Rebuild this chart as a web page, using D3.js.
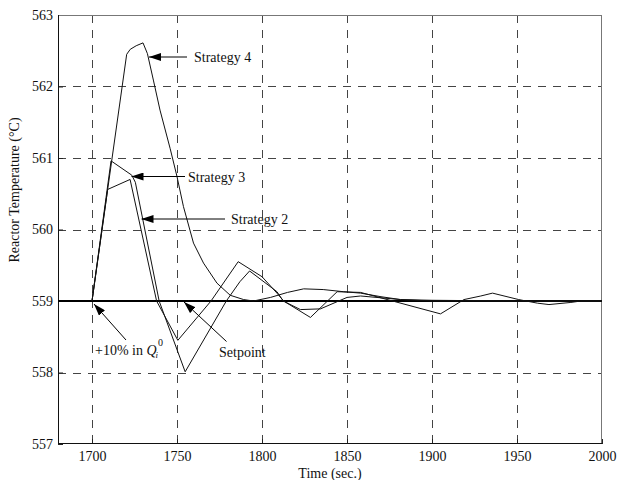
<!DOCTYPE html>
<html>
<head>
<meta charset="utf-8">
<script src="https://cdn.jsdelivr.net/npm/d3@7/dist/d3.min.js"></script>
<style>
  html, body { margin: 0; padding: 0; background: #fff; }
  svg { display: block; }
  text { font-family: "Liberation Serif", "Times New Roman", serif; fill: #111; }
</style>
</head>
<body>
<svg id="chart" width="618" height="480"></svg>
<script>
// Reactor temperature response (°C) to a +10% step in the inlet flow, by control strategy.
const timeTicks = [1700, 1750, 1800, 1850, 1900, 1950, 2000];
const tempTicks = [557, 558, 559, 560, 561, 562, 563];
const setpoint = 559;

const strategy2 = [
  [1700, 559.00], [1709.2, 560.56], [1722.4, 560.70], [1738.0, 559.00], [1750.5, 558.45],
  [1770.0, 559.00], [1786.0, 559.55], [1800.0, 559.34], [1808.8, 559.11], [1812.7, 559.00],
  [1828.5, 558.77], [1844.2, 559.13], [1858.0, 559.12], [1905.0, 558.82], [1918.8, 559.02],
  [1928.7, 559.07], [1935.6, 559.11], [1951.0, 559.02], [1962.0, 558.97], [1968.8, 558.95],
  [1981.7, 558.98], [1987.6, 559.00], [2000, 559.00]
];
const strategy3 = [
  [1700, 559.00], [1711.2, 560.96], [1723.4, 560.76], [1725.5, 560.66], [1739.5, 559.00],
  [1754.8, 558.01], [1779.0, 559.00], [1787.0, 559.27], [1792.7, 559.42], [1808.8, 559.13],
  [1812.5, 559.00], [1822.6, 558.88], [1834.4, 558.89], [1850.0, 559.05], [1858.0, 559.07],
  [1881.5, 559.02], [1900.0, 559.00], [2000, 559.00]
];
const strategy4 = [
  [1700, 559.00], [1720.4, 562.45], [1722.5, 562.52], [1726.0, 562.57], [1730.0, 562.61],
  [1732.6, 562.46], [1736.1, 562.09], [1740.0, 561.67], [1746.0, 561.13], [1750.0, 560.74],
  [1753.8, 560.32], [1759.7, 559.81], [1765.6, 559.53], [1773.5, 559.25], [1781.3, 559.08],
  [1789.2, 559.02], [1795.0, 559.00], [1805.0, 559.05], [1815.0, 559.12], [1824.5, 559.17],
  [1836.0, 559.16], [1848.0, 559.13], [1858.0, 559.11], [1870.0, 559.06], [1881.5, 559.02],
  [1900.0, 559.01], [1950.0, 559.00], [2000, 559.00]
];

const svg = d3.select("#chart");
const margin = { left: 58, right: 16, top: 15, bottom: 36 };
const W = 618, H = 480;

const x = d3.scaleLinear().domain([1680, 2000]).range([margin.left, W - margin.right]);
const y = d3.scaleLinear().domain([557, 563]).range([H - margin.bottom, margin.top]);

svg.append("rect").attr("width", W).attr("height", H).attr("fill", "#fff");

// dashed grid
const grid = svg.append("g").attr("stroke", "#444").attr("stroke-width", 1)
  .attr("stroke-dasharray", "8,7").attr("fill", "none");
grid.selectAll("line.v").data(timeTicks.filter(t => t < 2000)).join("line")
  .attr("x1", d => Math.round(x(d)) + 0.5).attr("x2", d => Math.round(x(d)) + 0.5)
  .attr("y1", y(563)).attr("y2", y(557));
grid.selectAll("line.h").data(tempTicks.filter(v => v > 557 && v < 563)).join("line")
  .attr("x1", x(1680)).attr("x2", x(2000))
  .attr("y1", d => Math.round(y(d)) + 0.5).attr("y2", d => Math.round(y(d)) + 0.5);

// axes
const xAxis = d3.axisBottom(x).tickValues(timeTicks).tickFormat(d3.format("d"))
  .tickSizeInner(-5).tickSizeOuter(0).tickPadding(7);
const yAxis = d3.axisLeft(y).tickValues(tempTicks).tickFormat(d3.format("d"))
  .tickSizeInner(-5).tickSizeOuter(0).tickPadding(5);

const gx = svg.append("g").attr("transform", `translate(0,${y(557)})`).call(xAxis);
const gy = svg.append("g").attr("transform", `translate(${x(1680)},0)`).call(yAxis);
[gx, gy].forEach(g => {
  g.select(".domain").remove();
  g.selectAll(".tick line").attr("stroke", "#222");
  g.selectAll(".tick text").attr("font-size", 14).attr("fill", "#111")
    .style("font-family", "'Liberation Serif', serif");
});

// frame
svg.append("line").attr("x1", x(1680)).attr("x2", x(2000)).attr("y1", y(563) + 0.5).attr("y2", y(563) + 0.5)
  .attr("stroke", "#777");
svg.append("line").attr("x1", x(2000) - 0.5).attr("x2", x(2000) - 0.5).attr("y1", y(563)).attr("y2", y(557))
  .attr("stroke", "#777");
svg.append("line").attr("x1", x(1680) + 0.5).attr("x2", x(1680) + 0.5).attr("y1", y(563)).attr("y2", y(557))
  .attr("stroke", "#111");
svg.append("line").attr("x1", x(1680)).attr("x2", x(2000)).attr("y1", y(557) - 0.5).attr("y2", y(557) - 0.5)
  .attr("stroke", "#111");

// setpoint
svg.append("line").attr("x1", x(1680)).attr("x2", x(2000)).attr("y1", y(setpoint)).attr("y2", y(setpoint))
  .attr("stroke", "#000").attr("stroke-width", 2.2);

// response curves
const line = d3.line().x(d => x(d[0])).y(d => y(d[1]));
[strategy2, strategy3, strategy4].forEach(s => {
  svg.append("path").datum(s).attr("d", line)
    .attr("fill", "none").attr("stroke", "#111").attr("stroke-width", 1);
});

// annotations with arrows
svg.append("defs").append("marker")
  .attr("id", "head").attr("viewBox", "0 0 12 8").attr("refX", 12).attr("refY", 4)
  .attr("markerWidth", 12).attr("markerHeight", 8).attr("markerUnits", "userSpaceOnUse")
  .attr("orient", "auto")
  .append("path").attr("d", "M0,0 L12,4 L0,8 Z").attr("fill", "#000");

function arrow(x1, y1, x2, y2) {
  svg.append("line").attr("x1", x1).attr("y1", y1).attr("x2", x2).attr("y2", y2)
    .attr("stroke", "#000").attr("stroke-width", 1).attr("marker-end", "url(#head)");
}

const ann = svg.append("g").attr("font-size", 14);
ann.append("text").attr("x", 194).attr("y", 62).text("Strategy 4");
arrow(187, 57, 149, 57);
ann.append("text").attr("x", 188).attr("y", 181.5).text("Strategy 3");
arrow(185, 176.5, 131.5, 176.5);
ann.append("text").attr("x", 231).attr("y", 223.5).text("Strategy 2");
arrow(225, 219, 141.5, 219);
ann.append("text").attr("x", 219).attr("y", 357).text("Setpoint");
arrow(226.5, 341.5, x(1750) + 7, y(setpoint) + 1);

const q = ann.append("text").attr("x", 95).attr("y", 355);
q.append("tspan").text("+10% in ");
q.append("tspan").attr("font-style", "italic").text("Q");
q.append("tspan").attr("font-style", "italic").attr("font-size", 9).attr("dx", -1).attr("dy", 3).text("i");
q.append("tspan").attr("font-size", 10).attr("dx", 0).attr("dy", -12).text("0");
arrow(126, 340, x(1700) + 2, y(setpoint) + 3);

// axis titles
svg.append("text").attr("x", (x(1680) + x(2000)) / 2).attr("y", 478)
  .attr("text-anchor", "middle").attr("font-size", 14).text("Time (sec.)");
svg.append("text").attr("transform", "translate(19,190) rotate(-90)")
  .attr("text-anchor", "middle").attr("font-size", 14).text("Reactor Temperature (°C)");
</script>
</body>
</html>
